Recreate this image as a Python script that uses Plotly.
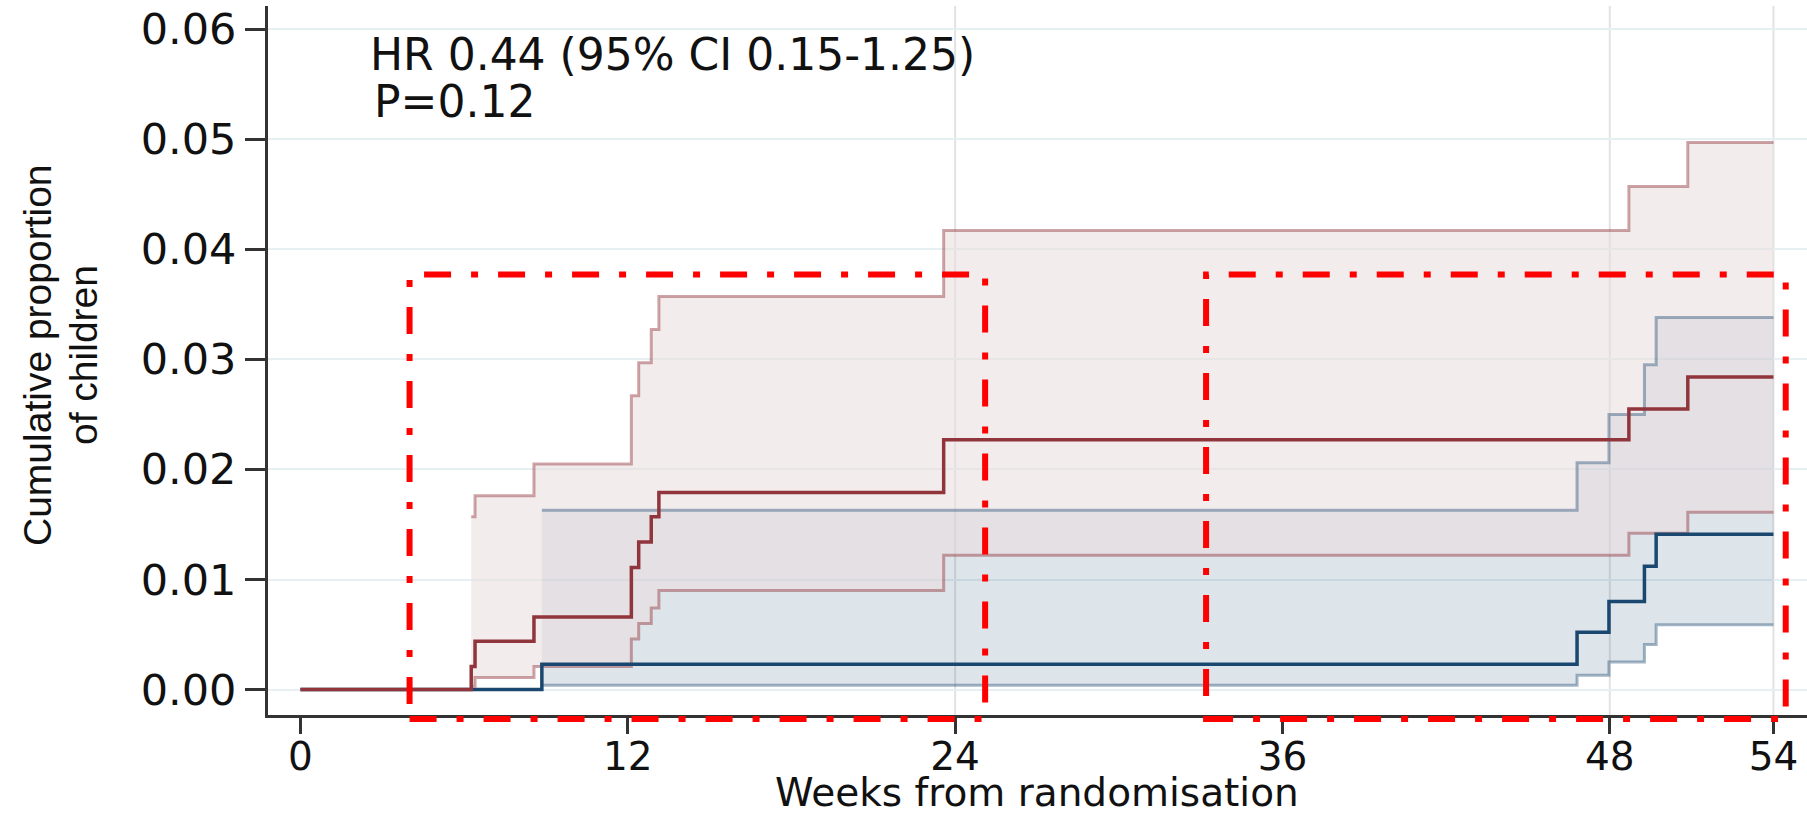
import plotly.graph_objects as go

# ---------------- data ----------------
red_t     = [0, 6.26, 6.4, 8.56, 12.13, 12.4, 12.86, 13.14, 23.58, 48.7, 50.86, 54]
red_est   = [0, 0.0021, 0.0044, 0.0066, 0.0111, 0.0134, 0.0157, 0.0179, 0.0227, 0.0255, 0.0284, 0.0284]
red_ci_t  = [6.26, 6.4, 8.56, 12.13, 12.4, 12.86, 13.14, 23.58, 48.7, 50.86, 54]
red_upper = [0.0157, 0.0176, 0.0205, 0.0267, 0.0297, 0.0327, 0.0357, 0.0417, 0.0457, 0.0497, 0.0497]
red_lower = [0.0003, 0.0011, 0.0021, 0.0046, 0.0060, 0.0074, 0.0090, 0.0122, 0.0142, 0.0161, 0.0161]

blue_t     = [0, 8.85, 46.8, 47.97, 49.27, 49.7, 54]
blue_est   = [0, 0.0023, 0.0052, 0.0080, 0.0112, 0.0141, 0.0141]
blue_ci_t  = [8.85, 46.8, 47.97, 49.27, 49.7, 54]
blue_upper = [0.0163, 0.0206, 0.0250, 0.0295, 0.0338, 0.0338]
blue_lower = [0.0004, 0.0013, 0.0025, 0.0041, 0.0059, 0.0059]

x_ticks = [0, 12, 24, 36, 48, 54]
y_ticks = [0, 0.01, 0.02, 0.03, 0.04, 0.05, 0.06]
x_grid_lines = [24, 48, 54]

# highlight boxes (weeks from, weeks to, top proportion)
boxes = [(4.0, 25.1, 0.0377), (33.2, 54.45, 0.0377)]

hr_text = "HR 0.44 (95% CI 0.15-1.25)"
p_text = "P=0.12"
x_title = "Weeks from randomisation"
y_title_lines = ["Cumulative proportion", "of children"]

# ---------------- style ----------------
W, H = 1807, 817
ML, MR, MT, MB = 268, 0, 6, 102
XR = [-1.19, 55.23]
YR = [-0.00231, 0.0621]

NAVY = "#1a476f"
MAROON = "#90353b"
FONT = "DejaVu Sans"

fig = go.Figure()

# blue CI band
fig.add_trace(go.Scatter(x=blue_ci_t, y=blue_lower, mode="lines", line=dict(width=0, shape="hv"),
                         showlegend=False, hoverinfo="skip"))
fig.add_trace(go.Scatter(x=blue_ci_t, y=blue_upper, mode="lines", line=dict(width=0, shape="hv"),
                         fill="tonexty", fillcolor="rgba(26,71,111,0.15)", showlegend=False, hoverinfo="skip"))
# red CI band
fig.add_trace(go.Scatter(x=red_ci_t, y=red_lower, mode="lines", line=dict(width=0, shape="hv"),
                         showlegend=False, hoverinfo="skip"))
fig.add_trace(go.Scatter(x=red_ci_t, y=red_upper, mode="lines", line=dict(width=0, shape="hv"),
                         fill="tonexty", fillcolor="rgba(234,222,223,0.57)", showlegend=False, hoverinfo="skip"))

# CI lines
for t, v in [(blue_ci_t, blue_upper), (blue_ci_t, blue_lower)]:
    fig.add_trace(go.Scatter(x=t, y=v, mode="lines", line=dict(color="rgba(26,71,111,0.4)", width=3, shape="hv"),
                             showlegend=False, hoverinfo="skip"))
for t, v in [(red_ci_t, red_upper), (red_ci_t, red_lower)]:
    fig.add_trace(go.Scatter(x=t, y=v, mode="lines", line=dict(color="rgba(144,53,59,0.45)", width=3, shape="hv"),
                             showlegend=False, hoverinfo="skip"))

# main estimates
fig.add_trace(go.Scatter(x=blue_t, y=blue_est, mode="lines", line=dict(color=NAVY, width=3.5, shape="hv"),
                         showlegend=False))
fig.add_trace(go.Scatter(x=red_t, y=red_est, mode="lines", line=dict(color=MAROON, width=3.5, shape="hv"),
                         showlegend=False))

def ypaper(v):
    return (v - YR[0]) / (YR[1] - YR[0])

PW = W - ML - MR
PH = H - MT - MB

def px_x(px):
    return (px - ML) / PW

def px_y(py):
    return (H - MB - py) / PH

shapes = []
for xv in x_grid_lines:
    shapes.append(dict(type="line", xref="x", yref="paper", x0=xv, x1=xv, y0=0, y1=1,
                       line=dict(color="#e2e2e2", width=2), layer="below"))
for x0, x1, top in boxes:
    shapes.append(dict(type="rect", xref="x", yref="paper", x0=x0, x1=x1, y0=-0.0056, y1=ypaper(top),
                       line=dict(color="#ff0000", width=6, dash="27px,20px,7px,20px"), layer="above"))

annotations = [
    dict(text=hr_text, xref="paper", yref="paper", x=px_x(368), y=px_y(54),
         xanchor="left", yanchor="middle", showarrow=False, font=dict(family=FONT, size=44, color="#111")),
    dict(text=p_text, xref="paper", yref="paper", x=px_x(372), y=px_y(101),
         xanchor="left", yanchor="middle", showarrow=False, font=dict(family=FONT, size=44, color="#111")),
    dict(text=x_title, xref="paper", yref="paper", x=px_x(1037), y=px_y(817),
         xanchor="center", yanchor="bottom", showarrow=False, font=dict(family=FONT, size=39, color="#111")),
]
for line_text, cx in zip(y_title_lines, [37, 83]):
    annotations.append(dict(text=line_text, xref="paper", yref="paper", x=px_x(cx), y=px_y(355),
                            xanchor="center", yanchor="middle", textangle=-90, showarrow=False,
                            font=dict(family="Liberation Sans Narrow, Liberation Sans, Arial", size=39, color="#111")))

fig.update_layout(
    width=W, height=H,
    margin=dict(l=ML, r=MR, t=MT, b=MB),
    paper_bgcolor="white", plot_bgcolor="white",
    shapes=shapes, annotations=annotations,
    showlegend=False,
    xaxis=dict(range=XR, tickvals=x_ticks, showgrid=False, zeroline=False,
               showline=True, linecolor="#333", linewidth=3,
               ticks="outside", ticklen=16, tickwidth=3, tickcolor="#333",
               ticklabelstandoff=-11,
               tickfont=dict(family=FONT, size=39, color="#111")),
    yaxis=dict(range=YR, tickvals=y_ticks, tickformat=".2f", showgrid=True, gridcolor="#e6eff2", gridwidth=2,
               zeroline=False, showline=True, linecolor="#333", linewidth=3,
               ticks="outside", ticklen=20, tickwidth=3, tickcolor="#333",
               ticklabelstandoff=0,
               tickfont=dict(family=FONT, size=43, color="#111")),
)

fig.write_html("out.html", config={"displayModeBar": False},
               post_script="document.body.style.margin='0px';")
